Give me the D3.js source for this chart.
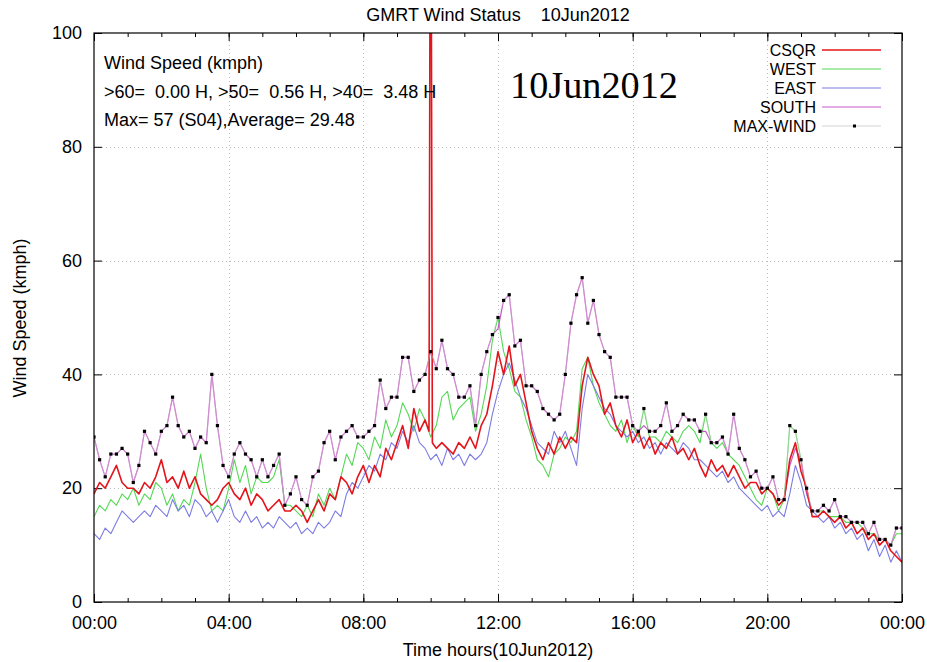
<!DOCTYPE html>
<html><head><meta charset="utf-8">
<script src="https://cdn.jsdelivr.net/npm/d3@7"></script>
<style>body{margin:0;background:#fff}</style>
</head><body><svg id="c" width="927" height="662"></svg>
<script>
// ---- data (10-minute samples, 00:00 .. 24:00) ----
const sampleStepMinutes = 10;
const csqr = [19,21,20,22,24,21, 20,20,19,21,20,22, 25,21,22,20,23,20, 22,19,18,17,18,20,
  21,19,18,20,17,19, 18,16,17,18,16,16, 17,16,14,16,18,16, 19,18,22,21,19,22,
  24,21,24,22,27,25, 28,31,27,34,30,32, 160,27,28,27,26,28, 27,29,27,31,33,38,
  44,40,45,38,40,35, 30,27,25,28,26,29, 27,29,28,38,43,40, 38,33,35,31,29,32,
  28,30,27,29,26,28, 27,29,26,27,25,27, 24,22,25,23,24,22, 24,22,20,21,21,19,
  20,19,17,18,25,28, 23,20,15,15,16,15, 14,15,13,14,12,13, 11,12,10,11,9,8, 7];
// extra CSQR readings around the 10:00 glitch (minute, value)
const csqrExtraMinutes = [597, 603];
const csqrExtraValues = [30, 28];
const west = [15,17,16,18,17,19, 18,20,17,19,18,21, 20,17,19,16,18,17, 21,26,20,16,17,16,
  20,25,21,24,19,22, 21,21,22,25,17,17, 16,15,17,15,19,17, 20,18,22,26,24,28,
  27,25,29,27,32,29, 31,35,33,30,34,32, 29,31,36,37,32,34, 35,36,30,33,38,46,
  50,44,41,37,36,32, 29,25,24,22,26,27, 29,28,30,41,43,38, 35,33,31,30,32,28,
  31,29,34,29,29,28, 30,29,28,30,31,30, 28,33,28,27,28,26, 25,24,22,20,18,17,
  20,19,16,18,31,30, 25,19,16,16,16,15, 15,15,14,14,14,13, 12,12,11,11,10,12, 12];
const east = [12,11,13,12,14,16, 15,14,15,16,15,17, 16,15,18,16,17,15, 18,17,15,16,14,16,
  18,15,14,16,14,15, 13,14,13,15,14,13, 14,12,13,12,14,13, 14,16,15,19,21,20,
  22,24,23,26,25,28, 27,30,28,31,28,27, 25,26,24,27,25,26, 24,26,25,26,28,33,
  37,40,42,39,36,34, 31,28,27,26,30,28, 30,27,24,34,40,38, 36,34,33,31,30,29,
  30,28,29,27,28,26, 28,27,26,28,27,25, 25,24,23,22,23,21, 22,20,19,18,17,16,
  17,15,16,15,19,24, 21,17,16,15,14,15, 13,14,12,13,11,12, 9,11,8,10,7,9, 7];
const south = [29,25,22,26,26,27, 26,21,24,30,28,26, 30,31,36,31,29,30, 27,29,28,40,31,24,
  22,26,28,26,25,22, 25,22,24,26,17,19, 22,18,17,22,23,28, 30,25,29,30,31,29,
  29,30,31,39,34,36, 36,43,43,37,39,40, 44,41,46,41,40,36, 36,38,31,40,44,47,
  48,53,54,45,46,38, 38,37,34,33,32,33, 40,49,54,57,49,53, 47,44,43,36,36,36,
  31,30,31,30,30,31, 35,30,31,33,32,32, 30,30,28,28,29,26, 33,27,25,22,23,20,
  20,22,18,18,24,27, 25,19,16,16,17,16, 18,15,15,14,14,14, 12,14,11,11,10,13, 13];
const maxWind = [29,25,22,26,26,27, 26,21,24,30,28,26, 30,31,36,31,29,30, 27,29,28,40,31,24,
  22,26,28,26,25,22, 25,22,24,26,17,19, 22,18,17,22,23,28, 30,25,29,30,31,29,
  29,30,31,39,34,36, 36,43,43,37,39,40, 44,41,46,41,40,36, 36,38,31,40,44,47,
  50,53,54,45,46,38, 38,37,34,33,32,33, 40,49,54,57,49,53, 47,44,43,36,36,36,
  31,30,34,30,30,31, 35,30,31,33,32,32, 30,33,28,28,29,26, 33,27,25,22,23,20,
  20,22,18,18,31,30, 25,20,16,16,17,16, 18,15,15,14,14,14, 12,14,11,11,10,13, 13];

const seriesNames = ["CSQR", "WEST", "EAST", "SOUTH", "MAX-WIND"];
const xTickMinutes = [0, 240, 480, 720, 960, 1200, 1440];
const xTickLabels = ["00:00", "04:00", "08:00", "12:00", "16:00", "20:00", "00:00"];
const yTicks = [0, 20, 40, 60, 80, 100];
const titleText = "GMRT Wind Status    10Jun2012";
const xTitle = "Time hours(10Jun2012)";
const yTitle = "Wind Speed (kmph)";
const dateStamp = "10Jun2012";
const infoLines = ["Wind Speed (kmph)", ">60=  0.00 H, >50=  0.56 H, >40=  3.48 H", "Max= 57 (S04),Average= 29.48"];

// ---- drawing ----
const SANS = "'Liberation Sans', Arial, Helvetica, sans-serif";
const FS = 18;
const svg = d3.select("#c").style("font-family", SANS);
const L = 94, R = 902, T = 33, B = 602;
const x = d3.scaleLinear().domain([0, 1440]).range([L, R]);
const y = d3.scaleLinear().domain([0, 100]).range([B, T]);
const colors = {CSQR: "#e3141b", WEST: "#55d855", EAST: "#7c7ce4", SOUTH: "#c857c8", "MAX-WIND": "#000"};

svg.append("rect").attr("width", 927).attr("height", 662).attr("fill", "#fff");
svg.append("defs").append("clipPath").attr("id", "clip")
  .append("rect").attr("x", L).attr("y", T).attr("width", R - L).attr("height", B - T);

// grid
const grid = svg.append("g").attr("stroke", "#bdbdbd").attr("stroke-width", 1).attr("stroke-dasharray", "1,3");
grid.selectAll(".gx").data(xTickMinutes.slice(1, -1)).join("line")
  .attr("x1", d => Math.round(x(d)) + 0.5).attr("x2", d => Math.round(x(d)) + 0.5).attr("y1", T).attr("y2", B);
grid.selectAll(".gy").data(yTicks.slice(1, -1)).join("line")
  .attr("y1", d => Math.round(y(d)) + 0.5).attr("y2", d => Math.round(y(d)) + 0.5).attr("x1", L).attr("x2", R);

// axes
const hourTicks = d3.range(0, 1441, 60);
function styleAxis(g) {
  g.select(".domain").remove();
  g.selectAll("line").attr("stroke", "#000").attr("stroke-width", 1);
  g.selectAll("text").style("font-size", FS + "px").attr("fill", "#000").style("font-family", SANS);
}
svg.append("g").attr("transform", `translate(0,${B})`)
  .call(d3.axisBottom(x).tickValues(hourTicks).tickSize(-4).tickFormat("")).call(styleAxis);
svg.append("g").attr("transform", `translate(0,${B})`)
  .call(d3.axisBottom(x).tickValues(xTickMinutes).tickSize(-8).tickPadding(14)
    .tickFormat((d, i) => xTickLabels[i])).call(styleAxis);
svg.append("g").attr("transform", `translate(0,${T})`)
  .call(d3.axisTop(x).tickValues(hourTicks).tickSize(-4).tickFormat("")).call(styleAxis);
svg.append("g").attr("transform", `translate(0,${T})`)
  .call(d3.axisTop(x).tickValues(xTickMinutes).tickSize(-8).tickFormat("")).call(styleAxis);
svg.append("g").attr("transform", `translate(${L},0)`)
  .call(d3.axisLeft(y).tickValues(yTicks).tickSize(-8).tickPadding(12)).call(styleAxis);
svg.append("g").attr("transform", `translate(${R},0)`)
  .call(d3.axisRight(y).tickValues(yTicks).tickSize(-8).tickFormat("")).call(styleAxis);

// series
const toPts = arr => arr.map((v, i) => [i * sampleStepMinutes, v]);
const csqrPts = toPts(csqr).concat(csqrExtraMinutes.map((m, i) => [m, csqrExtraValues[i]])).sort((a, b) => a[0] - b[0]);
const line = d3.line().x(d => x(d[0])).y(d => y(d[1]));
const plot = svg.append("g").attr("clip-path", "url(#clip)");
const drawOrder = [["WEST", toPts(west), 1.1], ["EAST", toPts(east), 1.1], ["SOUTH", toPts(south), 1.2], ["CSQR", csqrPts, 1.6]];
drawOrder.forEach(([name, pts, w]) => {
  plot.append("path").datum(pts).attr("d", line).attr("fill", "none")
    .attr("stroke", colors[name]).attr("stroke-width", w).attr("stroke-linejoin", "round");
});
const maxPts = toPts(maxWind);
plot.append("path").datum(maxPts).attr("d", line).attr("fill", "none").attr("stroke", "#d0d0d0").attr("stroke-width", 0.5);
plot.selectAll(".mx").data(maxPts).join("rect")
  .attr("x", d => x(d[0]) - 1.6).attr("y", d => y(d[1]) - 1.6).attr("width", 3.2).attr("height", 3.2).attr("fill", "#000");

// frame
svg.append("rect").attr("x", L).attr("y", T).attr("width", R - L).attr("height", B - T)
  .attr("fill", "none").attr("stroke", "#000").attr("stroke-width", 1.2);

// titles
svg.append("text").attr("x", 498).attr("y", 21).attr("text-anchor", "middle").style("font-size", FS + "px")
  .style("white-space", "pre").attr("xml:space", "preserve").text(titleText);
svg.append("text").attr("x", 498).attr("y", 656).attr("text-anchor", "middle").style("font-size", FS + "px").text(xTitle);
svg.append("text").attr("transform", "translate(26,318) rotate(-90)").attr("text-anchor", "middle").style("font-size", FS + "px").text(yTitle);

// info text
svg.selectAll(".info").data(infoLines).join("text")
  .attr("x", 104).attr("y", (d, i) => 69 + i * 28.5).style("font-size", FS + "px").attr("fill", "#000")
  .attr("xml:space", "preserve").style("white-space", "pre").text(d => d);
svg.append("text").attr("x", 510).attr("y", 98).style("font-family", "'Liberation Serif', 'Times New Roman', serif")
  .style("font-size", "38px").attr("textLength", 168).attr("lengthAdjust", "spacingAndGlyphs").text(dateStamp);

// legend
const legY = [50, 69, 88, 107, 126];
const leg = svg.append("g");
seriesNames.forEach((name, i) => {
  leg.append("text").attr("x", 816).attr("y", legY[i]).attr("dy", "0.36em").attr("text-anchor", "end")
    .style("font-size", "16px").text(name);
  if (name === "MAX-WIND") {
    leg.append("line").attr("x1", 822).attr("x2", 881).attr("y1", legY[i]).attr("y2", legY[i]).attr("stroke", "#c8c8c8").attr("stroke-width", 0.8);
    leg.append("rect").attr("x", 853).attr("y", legY[i] - 1.5).attr("width", 3).attr("height", 3).attr("fill", "#000");
  } else {
    leg.append("line").attr("x1", 822).attr("x2", 881).attr("y1", legY[i]).attr("y2", legY[i])
      .attr("stroke", colors[name]).attr("stroke-width", name === "CSQR" ? 1.6 : 1.1);
  }
});
</script></body></html>
